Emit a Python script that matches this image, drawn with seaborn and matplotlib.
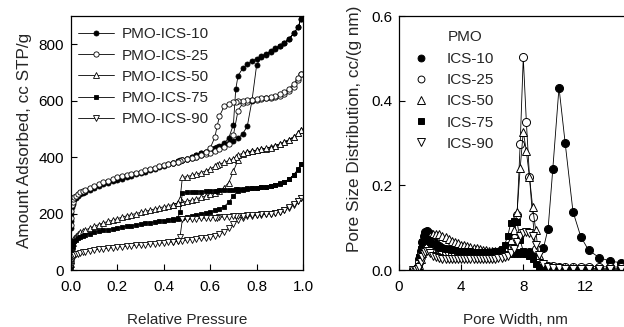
import matplotlib
matplotlib.use("Agg")
import matplotlib.pyplot as plt
from matplotlib.lines import Line2D
import seaborn as sns

# ---- nitrogen isotherms -------------------------------------------------
# relative pressure points, adsorption (up) and desorption (down)
p_ads = [0.0005, 0.001, 0.002, 0.004, 0.007, 0.01, 0.015, 0.02, 0.03, 0.04, 0.05,
         0.06, 0.08, 0.10, 0.12, 0.14, 0.16, 0.18, 0.20, 0.22, 0.24,
         0.26, 0.28, 0.30, 0.32, 0.34, 0.36, 0.38, 0.40, 0.42, 0.44,
         0.46, 0.48, 0.50, 0.52, 0.54, 0.56, 0.58, 0.60, 0.62, 0.64,
         0.66, 0.68, 0.70, 0.72, 0.74, 0.76, 0.78, 0.80, 0.82, 0.84,
         0.86, 0.88, 0.90, 0.92, 0.94, 0.96, 0.98, 0.99]
p_des = [0.99, 0.98, 0.96, 0.94, 0.92, 0.90, 0.88, 0.86,
         0.84, 0.82, 0.80, 0.78, 0.76, 0.74, 0.72, 0.71,
         0.70, 0.68, 0.66, 0.64, 0.63, 0.62, 0.60, 0.58,
         0.56, 0.54, 0.52, 0.50, 0.48, 0.47, 0.46, 0.44]

ics10_ads = [150, 175, 200, 222, 235, 243, 251, 256, 263, 269, 274,
             278, 285, 291, 297, 303, 309, 314, 319, 324, 329,
             334, 339, 344, 349, 354, 359, 364, 369, 374, 379,
             385, 390, 395, 401, 407, 413, 419, 425, 431, 437,
             443, 450, 458, 468, 482, 510, 600, 725, 757, 766,
             775, 785, 795, 806, 820, 838, 862, 888]
ics10_des = [888, 862, 838, 820, 805, 793, 782, 772,
             763, 755, 748, 740, 729, 715, 688, 640,
             515, 468, 450, 441, 436, 432, 426, 419,
             413, 407, 401, 395, 390, 388, 385, 379]

ics25_ads = [160, 185, 210, 230, 242, 250, 258, 263, 270, 276, 281,
             285, 292, 299, 305, 311, 317, 322, 328, 333, 337,
             341, 345, 349, 353, 358, 362, 367, 371, 376, 380,
             384, 388, 393, 397, 401, 406, 411, 416, 421, 427,
             435, 445, 478, 565, 590, 597, 601, 604, 606, 608,
             610, 613, 617, 624, 634, 650, 672, 695]
ics25_des = [695, 680, 660, 643, 631, 623, 617, 613,
             610, 608, 606, 604, 602, 600, 598, 596,
             594, 589, 580, 545, 510, 470, 432, 418,
             408, 401, 397, 393, 388, 386, 384, 380]

ics50_ads = [20, 35, 55, 78, 95, 105, 115, 121, 128, 133, 137,
             141, 148, 155, 161, 167, 172, 177, 182, 187, 192,
             196, 200, 204, 208, 212, 216, 220, 224, 228, 232,
             236, 240, 244, 248, 252, 257, 262, 268, 274, 281,
             292, 310, 350, 390, 410, 417, 421, 424, 427, 430,
             436, 441, 447, 454, 462, 472, 485, 495]
ics50_des = [495, 485, 472, 461, 452, 445, 439, 434,
             431, 428, 425, 422, 419, 414, 407, 401,
             395, 388, 381, 375, 371, 367, 358, 351,
             345, 339, 335, 331, 328, 250, 238, 232]

ics75_ads = [10, 25, 45, 65, 82, 93, 102, 108, 114, 118, 121,
             124, 129, 133, 137, 140, 143, 146, 149, 152, 155,
             157, 160, 162, 165, 167, 170, 172, 175, 177, 180,
             182, 185, 188, 191, 194, 198, 202, 206, 211, 217,
             225, 240, 262, 280, 285, 287, 289, 291, 293, 295,
             298, 302, 307, 313, 322, 336, 355, 375]
ics75_des = [375, 358, 338, 322, 312, 305, 300, 297,
             295, 293, 291, 290, 289, 288, 287, 286,
             285, 284, 283, 282, 281, 281, 280, 279,
             278, 277, 276, 275, 273, 206, 184, 178]

ics90_ads = [15, 22, 30, 38, 44, 48, 52, 55, 58, 61, 63,
             65, 68, 71, 73, 75, 77, 79, 81, 83, 84,
             86, 87, 89, 90, 92, 93, 95, 96, 98, 100,
             102, 104, 106, 108, 110, 112, 115, 118, 122, 127,
             135, 148, 163, 178, 186, 190, 192, 194, 196, 198,
             200, 203, 207, 212, 220, 232, 245, 255]
ics90_des = [255, 246, 233, 222, 213, 207, 203, 200,
             198, 197, 196, 195, 194, 193, 192, 191,
             190, 189, 188, 187, 186, 186, 185, 184,
             183, 182, 181, 180, 179, 118, 104, 100]

# ---- pore size distributions --------------------------------------------
width = [0.9, 1.0, 1.1, 1.2, 1.3, 1.4, 1.5, 1.6, 1.7, 1.8,
         1.9, 2.0, 2.2, 2.4, 2.6, 2.8, 3.0, 3.2, 3.4, 3.6,
         3.8, 4.0, 4.2, 4.4, 4.6, 4.8, 5.0, 5.2, 5.4, 5.6,
         5.8, 6.0, 6.2, 6.4, 6.6, 6.8, 7.0, 7.2, 7.4, 7.6,
         7.8, 8.0, 8.2, 8.4, 8.6, 8.8, 9.0, 9.3, 9.6, 9.9,
         10.3, 10.7, 11.2, 11.7, 12.2, 12.9, 13.6, 14.3, 15.1, 16.0]

psd10 = [0.0, 0.0, 0.002, 0.008, 0.025, 0.045, 0.065, 0.08, 0.09, 0.092,
         0.088, 0.082, 0.07, 0.062, 0.057, 0.053, 0.05, 0.048, 0.047, 0.046,
         0.045, 0.044, 0.044, 0.043, 0.043, 0.042, 0.042, 0.042, 0.041, 0.041,
         0.041, 0.041, 0.040, 0.040, 0.040, 0.040, 0.040, 0.040, 0.040, 0.040,
         0.040, 0.041, 0.041, 0.042, 0.043, 0.045, 0.047, 0.052, 0.098, 0.238,
         0.431, 0.299, 0.138, 0.079, 0.047, 0.029, 0.021, 0.017, 0.014, 0.012]
psd25 = [0.0, 0.0, 0.001, 0.006, 0.02, 0.038, 0.052, 0.06, 0.064, 0.065,
         0.063, 0.06, 0.055, 0.05, 0.047, 0.045, 0.043, 0.042, 0.041, 0.040,
         0.039, 0.039, 0.038, 0.038, 0.037, 0.037, 0.037, 0.037, 0.037, 0.037,
         0.037, 0.038, 0.039, 0.040, 0.042, 0.045, 0.05, 0.058, 0.075, 0.13,
         0.297, 0.502, 0.349, 0.22, 0.126, 0.05, 0.022, 0.013, 0.010, 0.009,
         0.008, 0.008, 0.008, 0.008, 0.008, 0.008, 0.007, 0.007, 0.006, 0.006]
psd50 = [0.0, 0.0, 0.0, 0.003, 0.012, 0.025, 0.04, 0.052, 0.062, 0.07,
         0.076, 0.08, 0.085, 0.086, 0.084, 0.081, 0.077, 0.073, 0.069, 0.066,
         0.063, 0.06, 0.058, 0.056, 0.054, 0.052, 0.051, 0.049, 0.048, 0.047,
         0.046, 0.045, 0.044, 0.044, 0.045, 0.048, 0.055, 0.07, 0.095, 0.136,
         0.24, 0.327, 0.28, 0.22, 0.15, 0.094, 0.035, 0.012, 0.007, 0.005,
         0.004, 0.004, 0.004, 0.003, 0.003, 0.003, 0.003, 0.003, 0.003, 0.003]
psd75 = [0.0, 0.0, 0.001, 0.008, 0.03, 0.05, 0.065, 0.072, 0.075, 0.074,
         0.07, 0.066, 0.06, 0.056, 0.053, 0.051, 0.05, 0.049, 0.048, 0.047,
         0.046, 0.045, 0.045, 0.044, 0.044, 0.043, 0.043, 0.043, 0.043, 0.043,
         0.043, 0.043, 0.044, 0.045, 0.05, 0.06, 0.08, 0.112, 0.116, 0.114,
         0.07, 0.045, 0.038, 0.032, 0.026, 0.015, 0.006, 0.002, 0.001, 0.001,
         0.001, 0.001, 0.001, 0.001, 0.0, 0.0, 0.0, 0.0, 0.0, 0.0]
psd90 = [0.0, 0.0, 0.0, 0.002, 0.008, 0.018, 0.03, 0.038, 0.043, 0.045,
         0.044, 0.04, 0.034, 0.03, 0.028, 0.027, 0.026, 0.025, 0.025, 0.025,
         0.025, 0.025, 0.025, 0.025, 0.025, 0.025, 0.025, 0.025, 0.026, 0.026,
         0.026, 0.027, 0.027, 0.028, 0.029, 0.031, 0.034, 0.04, 0.05, 0.065,
         0.08, 0.088, 0.09, 0.088, 0.08, 0.06, 0.035, 0.015, 0.008, 0.005,
         0.004, 0.003, 0.003, 0.003, 0.003, 0.002, 0.002, 0.002, 0.002, 0.002]

samples = ["ICS-10", "ICS-25", "ICS-50", "ICS-75", "ICS-90"]
iso_ads = [ics10_ads, ics25_ads, ics50_ads, ics75_ads, ics90_ads]
iso_des = [ics10_des, ics25_des, ics50_des, ics75_des, ics90_des]
psd = [psd10, psd25, psd50, psd75, psd90]

p_ticks = [0.0, 0.2, 0.4, 0.6, 0.8, 1.0]
v_ticks = [0, 200, 400, 600, 800]
w_ticks = [0, 4, 8, 12]
d_ticks = [0.0, 0.2, 0.4, 0.6]

# marker, face colour, size (left), size (right)
styles = [("o", "black", 3.6, 5.8), ("o", "white", 3.8, 5.8), ("^", "white", 4.2, 6.0),
          ("s", "black", 3.2, 5.0), ("v", "white", 4.2, 6.0)]

sns.set_style("ticks")
plt.rcParams["font.family"] = ["Liberation Sans", "DejaVu Sans"]
plt.rcParams["font.size"] = 11

fig = plt.figure(figsize=(6.24, 3.27), dpi=100)
ax1 = fig.add_axes([71 / 624, 57 / 327, 232 / 624, 254 / 327])
ax2 = fig.add_axes([399 / 624, 57 / 327, 233 / 624, 254 / 327])

for name, ads, des, (m, fc, ms1, ms2) in zip(samples, iso_ads, iso_des, styles):
    sns.lineplot(x=p_ads + p_des, y=ads + des, ax=ax1, sort=False, estimator=None,
                 color="black", lw=0.6, marker=m, ms=ms1, mfc=fc, mec="black",
                 mew=0.6, label="PMO-" + name)

handles2 = []
for name, vals, (m, fc, ms1, ms2) in zip(samples, psd, styles):
    sns.lineplot(x=width, y=vals, ax=ax2, sort=False, estimator=None,
                 color="black", lw=0.6, marker=m, ms=ms2, mfc=fc, mec="black",
                 mew=0.7, legend=False)
    handles2.append(Line2D([], [], ls="none", marker=m, ms=ms2 * 0.85, mfc=fc,
                           mec="black", mew=0.7, label=name))

ax1.set_xlim(0, 1.0)
ax1.set_ylim(0, 900)
ax1.set_xticks(p_ticks)
ax1.set_xticklabels([f"{t:.1f}" for t in p_ticks])
ax1.set_yticks(v_ticks)
ax1.set_xlabel("Relative Pressure", fontsize=11)
ax1.set_ylabel("Amount Adsorbed, cc STP/g", fontsize=12.3)
ax1.xaxis.set_label_coords(0.5, -0.169)
ax1.yaxis.set_label_coords(-0.168, 0.512)
ax1.legend(loc="upper left", bbox_to_anchor=(0.03, 0.955), frameon=False,
           borderaxespad=0, borderpad=0, handlelength=2.35, handletextpad=0.5,
           labelspacing=0.47, fontsize=11)

ax2.set_xlim(0, 15)
ax2.set_ylim(0, 0.6)
ax2.set_xticks(w_ticks)
ax2.set_yticks(d_ticks)
ax2.set_yticklabels([f"{t:.1f}" for t in d_ticks])
ax2.set_xlabel("Pore Width, nm", fontsize=11)
ax2.set_ylabel("Pore Size Distribution, cc/(g nm)", fontsize=12.3)
ax2.xaxis.set_label_coords(0.5, -0.169)
ax2.yaxis.set_label_coords(-0.159, 0.555)
ax2.text(0.21, 0.917, "PMO", transform=ax2.transAxes, ha="left", va="center", fontsize=11)
ax2.legend(handles=handles2, loc="upper left", bbox_to_anchor=(0.062, 0.858), frameon=False,
           borderaxespad=0, borderpad=0, handlelength=1.0, handletextpad=1.2,
           labelspacing=0.47, fontsize=11)

for ax in (ax1, ax2):
    ax.tick_params(direction="in", length=4, width=0.8, labelsize=11,
                   colors="black")
    ax.tick_params(axis="x", pad=7)
    ax.tick_params(axis="y", pad=5)
    for sp in ax.spines.values():
        sp.set_visible(True)
        sp.set_linewidth(0.9)
        sp.set_color("black")

fig.savefig("out.png", dpi=100)
